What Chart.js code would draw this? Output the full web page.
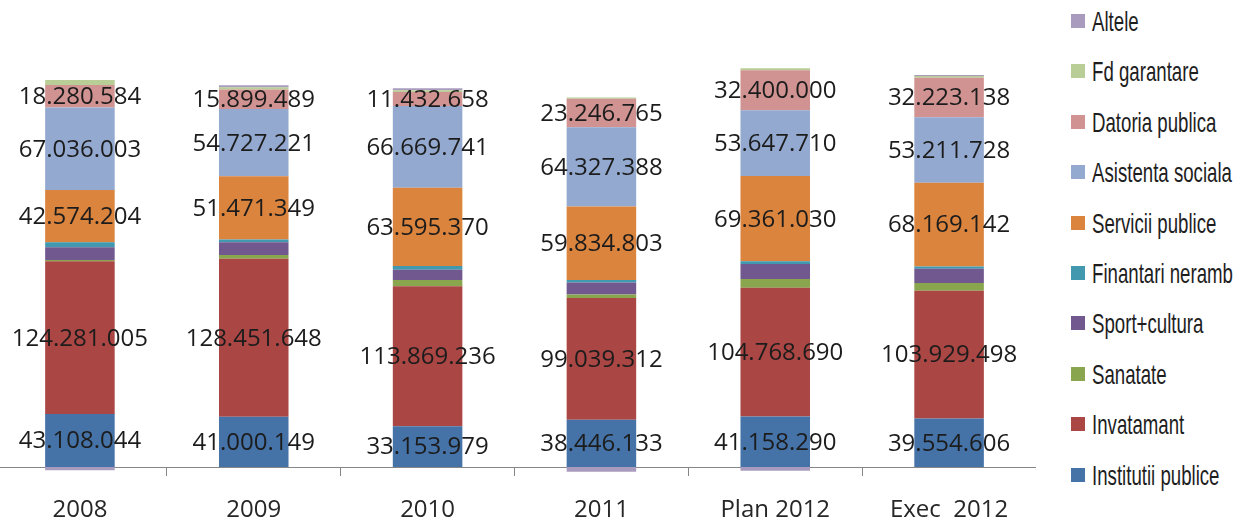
<!DOCTYPE html>
<html>
<head>
<meta charset="utf-8">
<script src="https://cdn.jsdelivr.net/npm/chart.js@4"></script>
<style>
    body { margin: 0; background: #fff; }
    #page { position: relative; width: 1234px; height: 520px; overflow: hidden; background: #fff; }
    #chartBox { position: absolute; left: -7px; top: 0; width: 1043px; height: 520px; }
    #legend { position: absolute; left: 1071px; top: 0; width: 163px; height: 520px; }
    .legend-item { position: absolute; left: 0; height: 20px; white-space: nowrap; }
    .legend-item .box { position: absolute; left: 0; top: 0; width: 14px; height: 14px; }
    .legend-item .txt { position: absolute; left: 21px; top: -7px; font-family: "Liberation Sans", sans-serif;
        font-size: 28px; color: #1e1e1e; transform-origin: 0 50%; line-height: 30px; }
</style>
</head>
<body>
<div id="page">
    <div id="chartBox"><canvas id="budgetChart"></canvas></div>
    <div id="legend"></div>
</div>
<script>
// Categories and series (values in lei)
const categories = ['2008', '2009', '2010', '2011', 'Plan 2012', 'Exec  2012'];

const seriesNames = ['Institutii publice', 'Invatamant', 'Sanatate', 'Sport+cultura', 'Finantari neramb',
    'Servicii publice', 'Asistenta sociala', 'Datoria publica', 'Fd garantare', 'Altele'];

const seriesColors = ['#4572A7', '#AA4643', '#89A54E', '#71588F', '#4198AF',
    '#DB843D', '#93A9CF', '#D19392', '#B9CD96', '#A99BBD'];

const institutiiPublice = [43108044, 41000149, 33153979, 38446133, 41158290, 39554606];
const invatamant = [124281005, 128451648, 113869236, 99039312, 104768690, 103929498];
const sanatate = [1200000, 3200000, 5200000, 3000000, 7000000, 6200000];
const sportCultura = [10300000, 10300000, 8400000, 9600000, 12300000, 11700000];
const finantariNeramb = [4100000, 2200000, 3000000, 2200000, 2200000, 1900000];
const serviciiPublice = [42574204, 51471349, 63595370, 59834803, 69361030, 68169142];
const asistentaSociala = [67036003, 54727221, 66669741, 64327388, 53647710, 53211728];
const datoriaPublica = [18280584, 15899489, 11432658, 23246765, 32400000, 32223138];
const fdGarantare = [4100000, 1900000, 1400000, 1100000, 1800000, 1300000];
const altele = [-2600000, 1600000, 1600000, -3800000, -3000000, 800000];

const seriesValues = [institutiiPublice, invatamant, sanatate, sportCultura, finantariNeramb,
    serviciiPublice, asistentaSociala, datoriaPublica, fdGarantare, altele];

// only the big series get value labels
const labelledSeries = [0, 1, 5, 6, 7];

function formatValue(v) {
    return String(Math.round(v)).replace(/\B(?=(\d{3})+(?!\d))/g, '.');
}

const valueLabels = {
    id: 'valueLabels',
    afterDatasetsDraw(chart) {
        const ctx = chart.ctx;
        ctx.save();
        ctx.font = '24px "Open Sans", sans-serif';
        ctx.fillStyle = '#1c1c1c';
        ctx.textAlign = 'center';
        ctx.textBaseline = 'middle';
        labelledSeries.forEach(di => {
            const meta = chart.getDatasetMeta(di);
            meta.data.forEach((bar, i) => {
                const p = bar.getProps(['x', 'y', 'base'], true);
                ctx.fillText(formatValue(chart.data.datasets[di].data[i]), p.x, (p.y + p.base) / 2 + 1);
            });
        });
        ctx.restore();
    }
};

const datasets = seriesNames.map((name, i) => ({
    label: name,
    data: seriesValues[i],
    backgroundColor: seriesColors[i],
    borderWidth: 0,
    clip: false
}));

new Chart(document.getElementById('budgetChart'), {
    type: 'bar',
    data: { labels: categories, datasets: datasets },
    options: {
        responsive: true,
        maintainAspectRatio: false,
        animation: false,
        barPercentage: 0.4,
        categoryPercentage: 1,
        layout: { padding: { top: 37, left: 0, right: 0, bottom: 0 } },
        plugins: {
            legend: { display: false },
            tooltip: { enabled: false }
        },
        scales: {
            x: {
                stacked: true,
                afterFit: function(scale) { scale.height = 53; },
                grid: {
                    drawOnChartArea: false,
                    drawTicks: true,
                    tickLength: 9,
                    color: '#868686'
                },
                border: { display: true, color: '#868686', width: 1 },
                ticks: {
                    padding: 20,
                    color: '#262626',
                    font: { family: '"Open Sans", sans-serif', size: 24 }
                }
            },
            y: {
                stacked: true,
                display: false,
                min: 0,
                max: 350000000
            }
        }
    },
    plugins: [valueLabels]
});

// Legend on the right, top to bottom in reverse series order
const legendBox = document.getElementById('legend');
const measure = document.createElement('canvas').getContext('2d');
measure.font = '28px "Liberation Sans", sans-serif';
const squeeze = 140 / measure.measureText('Asistenta sociala').width;

seriesNames.slice().reverse().forEach((name, k) => {
    const color = seriesColors[seriesNames.length - 1 - k];
    const item = document.createElement('div');
    item.className = 'legend-item';
    item.style.top = (14 + k * 50.4) + 'px';
    item.innerHTML = '<div class="box" style="background:' + color + '"></div>' +
        '<span class="txt" style="transform:scaleX(' + squeeze.toFixed(3) + ')">' + name + '</span>';
    legendBox.appendChild(item);
});
</script>
</body>
</html>
